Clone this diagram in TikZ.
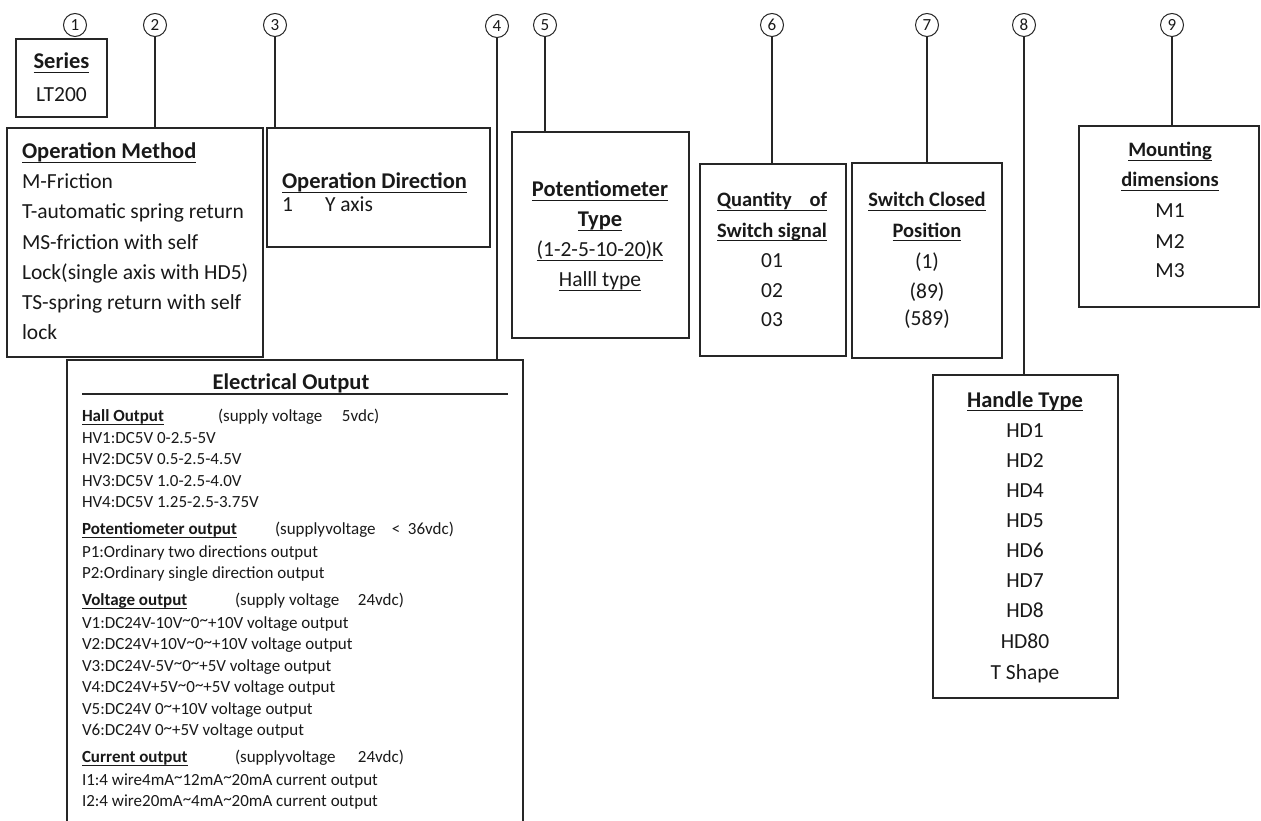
\documentclass[tikz,border=0pt]{standalone}
\usepackage{fontspec}
\setmainfont{Carlito}
\newcommand{\fsz}[1]{\fontsize{#1}{#1}\selectfont}
\newcommand{\tld}{\raisebox{0.3ex}{\textasciitilde}}
\newcommand{\ulx}[1]{\setbox0=\hbox{#1}\leavevmode\rlap{\rule[-4pt]{\wd0}{1.2pt}}\box0}
\begin{document}
\begin{tikzpicture}[x=1pt,y=-1pt,
  every node/.style={inner sep=0pt, outer sep=0pt, text=black!90},
  box/.style={draw=black!85, line width=1.4pt, anchor=north west},
  circ/.style={circle, draw=black!85, line width=1pt, minimum size=23pt, font=\fsz{17}},
  conn/.style={draw=black!85, line width=1.2pt},
  hd/.style={font=\bfseries\fsz{22.5}, anchor=base},
  hds/.style={font=\bfseries\fsz{20.5}, anchor=base},
  bd/.style={font=\fsz{21.5}, anchor=base},
  sm/.style={font=\fsz{17}, anchor=base west},
  smh/.style={font=\bfseries\fsz{17}, anchor=base west},
]
\useasboundingbox (0,0) rectangle (1261,821);
\clip (0,0) rectangle (1261,821);

% circled numbers
\node[circ] (c1) at (75,25) {1};
\node[circ] (c2) at (155,25) {2};
\node[circ] (c3) at (275,25) {3};
\node[circ] (c4) at (497,26) {4};
\node[circ] (c5) at (545,25) {5};
\node[circ] (c6) at (772,25) {6};
\node[circ] (c7) at (927,25) {7};
\node[circ] (c8) at (1024,25) {8};
\node[circ] (c9) at (1172,25) {9};

% boxes
\node[box, minimum width=91pt, minimum height=78pt] (series) at (16,39) {};
\node[box, minimum width=256pt, minimum height=229pt] (opm) at (7,128) {};
\node[box, minimum width=223pt, minimum height=119pt] (opd) at (267,128) {};
\node[box, minimum width=456pt, minimum height=480pt] (eo) at (67,360) {};
\node[box, minimum width=177pt, minimum height=206pt] (pot) at (512,132) {};
\node[box, minimum width=146pt, minimum height=192pt] (qty) at (700,164) {};
\node[box, minimum width=150pt, minimum height=195pt] (scp) at (852,163) {};
\node[box, minimum width=185pt, minimum height=323pt] (hdl) at (933,375) {};
\node[box, minimum width=180pt, minimum height=181pt] (mnt) at (1079,126) {};

% connectors
\draw[conn] (c2) -- (c2 |- opm.north);
\draw[conn] (c3) -- (c3 |- opd.north);
\draw[conn] (c4) -- (c4 |- eo.north);
\draw[conn] (c5) -- (c5 |- pot.north);
\draw[conn] (c6) -- (c6 |- qty.north);
\draw[conn] (c7) -- (c7 |- scp.north);
\draw[conn] (c8) -- (c8 |- hdl.north);
\draw[conn] (c9) -- (c9 |- mnt.north);

% Series
\node[hd] (t-ser) at (61.5,69) {\ulx{Series}};
\node[bd] (t-lt) at (61.5,102) {LT200};

% Operation Method
\node[hd, anchor=base west] (t-opm) at (22,159) {\ulx{Operation Method}};
\node[bd, anchor=base west] (t-opm1) at (22,189) {M-Friction};
\node[bd, anchor=base west] (t-opm2) at (22,219) {T-automatic spring return};
\node[bd, anchor=base west] (t-opm3) at (22,249) {MS-friction with self};
\node[bd, anchor=base west] (t-opm4) at (22,279) {Lock(single axis with HD5)};
\node[bd, anchor=base west] (t-opm5) at (22,309) {TS-spring return with self};
\node[bd, anchor=base west] (t-opm6) at (22,339) {lock};

% Operation Direction
\node[hd, anchor=base west] (t-opd) at (282,189) {\ulx{Operation Direction}};
\node[bd, anchor=base west] (t-opd1) at (282,212) {1};
\node[bd, anchor=base west] (t-opd2) at (325,212) {Y axis};

% Potentiometer
\node[hd] (t-pot1) at (600,197) {\ulx{Potentiometer}};
\node[hd] (t-pot2) at (600,227) {\ulx{Type}};
\node[bd] (t-pot3) at (600,257) {\ulx{(1-2-5-10-20)K}};
\node[bd] (t-pot4) at (600,287) {\ulx{Halll type}};

% Quantity of switch signal
\node[hds] (t-q1) at (772,207) {\ulx{\makebox[110pt][s]{Quantity\hfill of}}};
\node[hds] (t-q2) at (772,237) {\ulx{Switch signal}};
\node[bd] (t-q3) at (772,267) {01};
\node[bd] (t-q4) at (772,297) {02};
\node[bd] (t-q5) at (772,326) {03};

% Switch closed position
\node[hds] (t-s1) at (927,207) {\ulx{Switch Closed}};
\node[hds] (t-s2) at (927,237) {\ulx{Position}};
\node[bd] (t-s3) at (927,269) {(1)};
\node[bd] (t-s4) at (927,298) {(89)};
\node[bd] (t-s5) at (927,325) {(589)};

% Handle type
\node[hd] (t-h0) at (1025,407) {\ulx{Handle Type}};
\node[bd] (t-h1) at (1025,437) {HD1};
\node[bd] (t-h2) at (1025,467) {HD2};
\node[bd] (t-h3) at (1025,497) {HD4};
\node[bd] (t-h4) at (1025,527) {HD5};
\node[bd] (t-h5) at (1025,557) {HD6};
\node[bd] (t-h6) at (1025,587) {HD7};
\node[bd] (t-h7) at (1025,617) {HD8};
\node[bd] (t-h8) at (1025,648) {HD80};
\node[bd] (t-h9) at (1025,679) {T Shape};

% Mounting
\node[hds] (t-m1) at (1170,157) {\ulx{Mounting}};
\node[hds] (t-m2) at (1170,187) {\ulx{dimensions}};
\node[bd] (t-m3) at (1170,218) {M1};
\node[bd] (t-m4) at (1170,248) {M2};
\node[bd] (t-m5) at (1170,277) {M3};

% Electrical output
\node[font=\bfseries\fsz{22.5}, anchor=base] (t-eo) at (291,389) {Electrical Output};
\draw[line width=1.2pt, draw=black!85] (82,394) -- (508,394);

\node[smh] (e-h) at (82,421) {\ulx{Hall Output}};
\node[sm] (e-hs) at (218,421) {\makebox[124pt][l]{(supply voltage}5vdc)};
\node[sm] (e-1) at (82,443) {HV1:DC5V 0-2.5-5V};
\node[sm] (e-2) at (82,464.5) {HV2:DC5V 0.5-2.5-4.5V};
\node[sm] (e-3) at (82,486) {HV3:DC5V 1.0-2.5-4.0V};
\node[sm] (e-4) at (82,507.5) {HV4:DC5V 1.25-2.5-3.75V};

\node[smh] (e-p) at (82,534) {\ulx{Potentiometer output}};
\node[sm] (e-ps) at (275,534) {\makebox[117pt][l]{(supplyvoltage}\makebox[16pt][l]{<}36vdc)};
\node[sm] (e-5) at (82,557) {P1:Ordinary two directions output};
\node[sm] (e-6) at (82,578.5) {P2:Ordinary single direction output};

\node[smh] (e-v) at (82,605) {\ulx{Voltage output}};
\node[sm] (e-vs) at (235,605) {\makebox[123pt][l]{(supply voltage}24vdc)};
\node[sm] (e-7) at (82,628) {V1:DC24V-10V\tld0\tld+10V voltage output};
\node[sm] (e-8) at (82,649.5) {V2:DC24V+10V\tld0\tld+10V voltage output};
\node[sm] (e-9) at (82,671) {V3:DC24V-5V\tld0\tld+5V voltage output};
\node[sm] (e-10) at (82,692.5) {V4:DC24V+5V\tld0\tld+5V voltage output};
\node[sm] (e-11) at (82,714) {V5:DC24V 0\tld+10V voltage output};
\node[sm] (e-12) at (82,735.5) {V6:DC24V 0\tld+5V voltage output};

\node[smh] (e-c) at (82,762) {\ulx{Current output}};
\node[sm] (e-cs) at (235,762) {\makebox[123pt][l]{(supplyvoltage}24vdc)};
\node[sm] (e-13) at (82,785) {I1:4 wire4mA\tld12mA\tld20mA current output};
\node[sm] (e-14) at (82,806.5) {I2:4 wire20mA\tld4mA\tld20mA current output};
\end{tikzpicture}
\end{document}
